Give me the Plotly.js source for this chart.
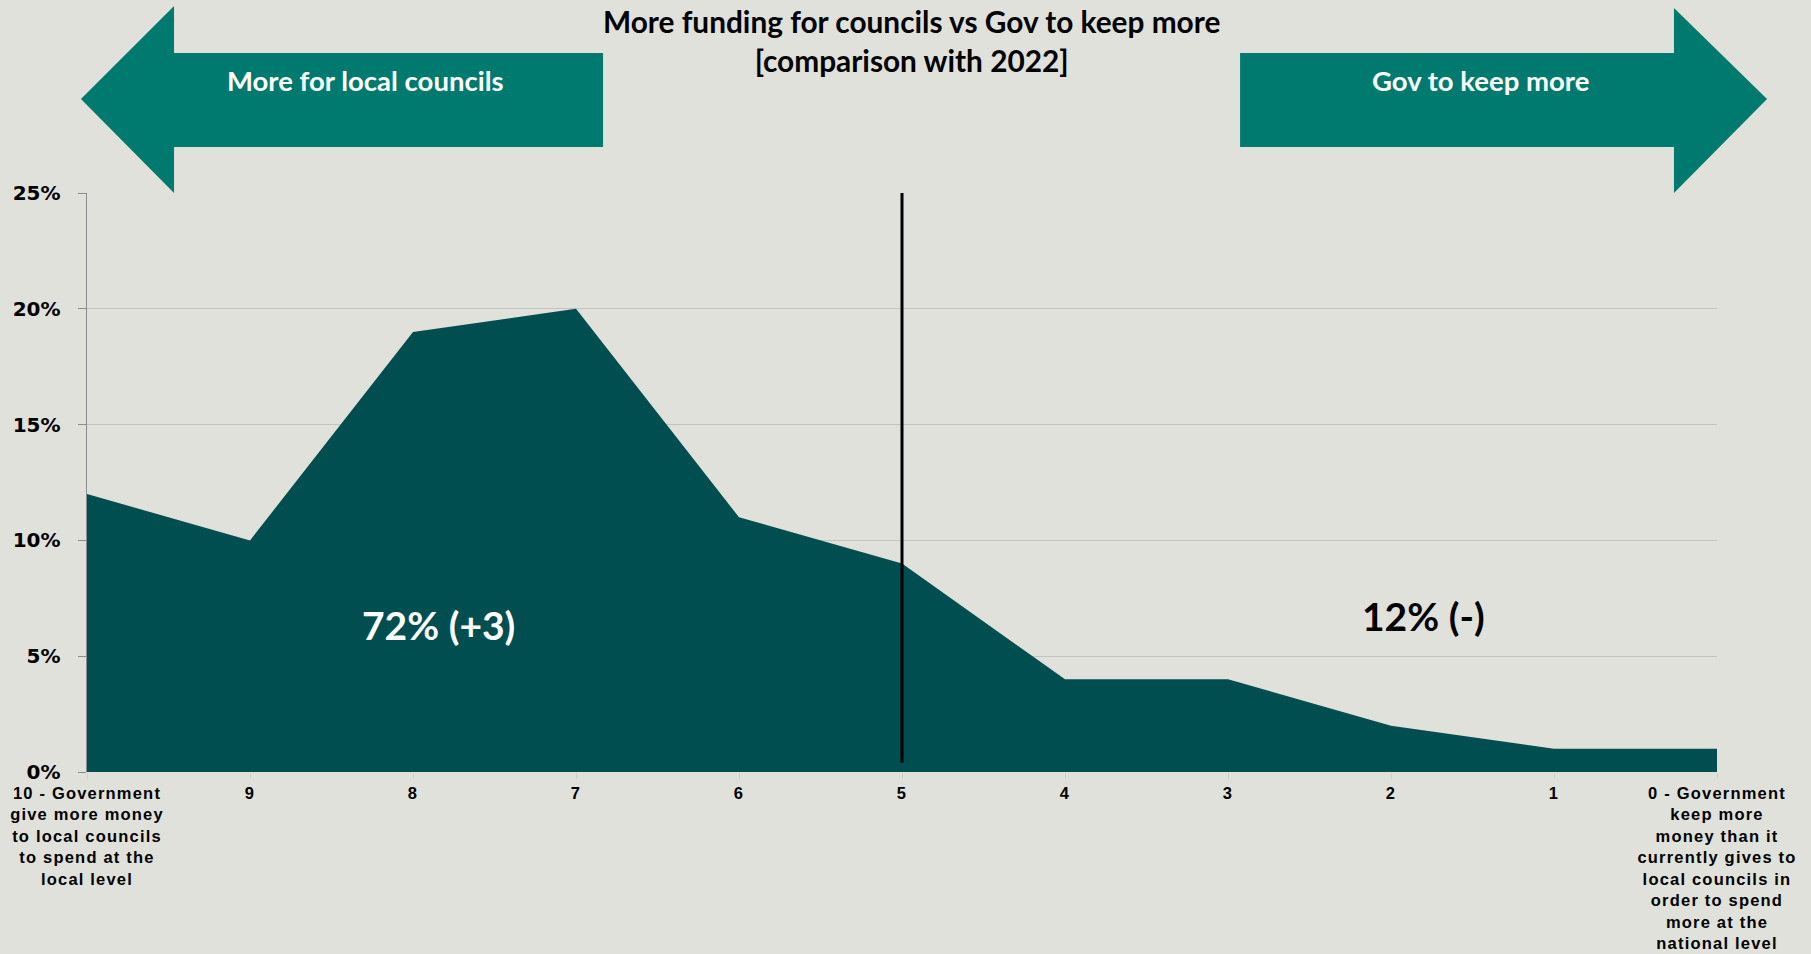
<!DOCTYPE html>
<html>
<head>
<meta charset="utf-8">
<script src="https://cdn.plot.ly/plotly-3.0.1.min.js"></script>
<style>
html,body{margin:0;padding:0;background:#E0E1DA;}
#chart{width:1811px;height:954px;}
.xtick text{letter-spacing:1.2px;}
</style>
</head>
<body>
<div id="chart"></div>
<script>
// ---- data ----
const categories = [
  '10 - Government<br>give more money<br>to local councils<br>to spend at the<br>local level',
  '9','8','7','6','5','4','3','2','1',
  '0 - Government<br>keep more<br>money than it<br>currently gives to<br>local councils in<br>order to spend<br>more at the<br>national level'
];
const shares = [12, 10, 19, 20, 11, 9, 4, 4, 2, 1, 1];
const yTickVals = [0, 5, 10, 15, 20, 25];
const yTickText = ['0%', '5%', '10%', '15%', '20%', '25%'];
const titleText = 'More funding for councils vs Gov to keep more<br>[comparison with 2022]';
const leftArrowText = 'More for local councils';
const rightArrowText = 'Gov to keep more';
const leftTotal = '72% (+3)';
const rightTotal = '12% (-)';
const dividerCategory = '5';

// ---- geometry helpers (pixel -> paper) ----
const L = 87, R = 1717, T = 193, B = 772;
const px = x => (x - L) / (R - L);
const py = y => (B - y) / (B - T);
function pathOf(pts){
  return 'M ' + pts.map(p => px(p[0]).toFixed(4) + ',' + py(p[1]).toFixed(4)).join(' L ') + ' Z';
}
const leftArrow = pathOf([[81,99],[174,6],[174,53],[603,53],[603,147],[174,147],[174,193]]);
const rightArrow = pathOf([[1767,99],[1674,8],[1674,53],[1240,53],[1240,147],[1674,147],[1674,193]]);

const bg = '#E0E1DA';
const arrowColor = '#007A6E';
const fillColor = '#004E50';
const calibri = 'Lato, "Open Sans", sans-serif';

const trace = {
  type: 'scatter',
  mode: 'lines',
  x: categories,
  y: shares,
  fill: 'tozeroy',
  fillcolor: fillColor,
  line: {width: 0, color: fillColor},
  hoverinfo: 'skip'
};

const layout = {
  width: 1811, height: 954,
  paper_bgcolor: bg, plot_bgcolor: bg,
  margin: {l: L, r: 1811 - R, t: T, b: 954 - B, pad: 0},
  showlegend: false,
  xaxis: {
    type: 'category',
    range: [0, categories.length - 1],
    showgrid: false,
    zeroline: false,
    showline: false,
    ticks: 'outside',
    ticklen: 6,
    tickcolor: '#CFCFCF',
    tickfont: {family: '"Liberation Sans", Arial, sans-serif', size: 16.5, color: '#000', weight: 'bold'},
    tickangle: 0,
    fixedrange: true
  },
  yaxis: {
    range: [0, 25],
    tickvals: yTickVals,
    ticktext: yTickText,
    showgrid: true,
    gridcolor: '#C3C3C3',
    gridwidth: 1,
    zeroline: false,
    showline: true,
    linecolor: '#8C8C8C',
    linewidth: 1.5,
    ticks: 'outside',
    ticklen: 8,
    tickcolor: '#8C8C8C',
    ticklabelstandoff: 13,
    tickfont: {family: '"DejaVu Sans", Verdana, sans-serif', size: 20, color: '#000', weight: 'bold'},
    fixedrange: true
  },
  shapes: [
    {type: 'path', xref: 'paper', yref: 'paper', path: leftArrow, fillcolor: arrowColor, line: {width: 0}, layer: 'above'},
    {type: 'path', xref: 'paper', yref: 'paper', path: rightArrow, fillcolor: arrowColor, line: {width: 0}, layer: 'above'},
    {type: 'line', xref: 'x', yref: 'y', x0: categories.indexOf(dividerCategory), x1: categories.indexOf(dividerCategory), y0: 0.4, y1: 25, line: {color: '#000', width: 3}, layer: 'above'}
  ],
  annotations: [
    {xref: 'paper', yref: 'paper', x: px(912), y: py(41), text: titleText, showarrow: false, xanchor: 'center', yanchor: 'middle',
     font: {family: calibri, size: 29.8, color: '#000', weight: 'bold'}, align: 'center'},
    {xref: 'paper', yref: 'paper', x: px(365), y: py(80), text: leftArrowText, showarrow: false, xanchor: 'center', yanchor: 'middle',
     font: {family: calibri, size: 27.5, color: '#fff', weight: 'bold'}},
    {xref: 'paper', yref: 'paper', x: px(1480), y: py(81), text: rightArrowText, showarrow: false, xanchor: 'center', yanchor: 'middle',
     font: {family: calibri, size: 27.5, color: '#fff', weight: 'bold'}},
    {xref: 'paper', yref: 'paper', x: px(438), y: py(625), text: leftTotal, showarrow: false, xanchor: 'center', yanchor: 'middle',
     font: {family: calibri, size: 39, color: '#fff', weight: 'bold'}},
    {xref: 'paper', yref: 'paper', x: px(1423), y: py(616), text: rightTotal, showarrow: false, xanchor: 'center', yanchor: 'middle',
     font: {family: calibri, size: 39, color: '#000', weight: 'bold'}}
  ]
};

Plotly.newPlot('chart', [trace], layout, {displayModeBar: false, staticPlot: true});
</script>
</body>
</html>
